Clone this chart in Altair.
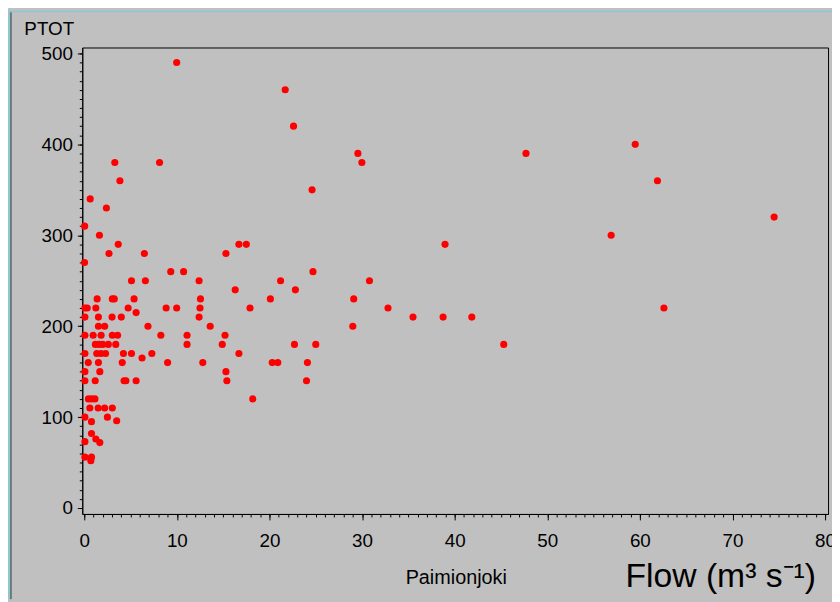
import altair as alt
import pandas as pd

# ---- data (Paimionjoki: flow vs PTOT) ----
flow = [
    0.04, 0.03, 0.64, 2.39, 1.64, 3.67, 2.67, 6.49, 3.3, 3.85, 8.13, 9.98,
    21.7, 22.6, 29.55, 29.98, 24.6, 47.7, 59.5, 61.9, 74.5, 56.9, 38.96,
    32.8, 35.5, 38.75, 41.85, 62.6, 45.3, 16.7, 17.5, 15.3, 9.34, 10.73,
    24.7, 5.1, 6.6, 12.4, 21.2, 30.8, 16.3, 22.8, 12.55, 20.1, 29.1,
    1.39, 3.03, 3.24, 5.38, 0.07, 0.32, 1.25, 4.74, 8.84, 9.98, 12.5, 17.9,
    5.6, 0.07, 1.53, 3.0, 4.0, 12.4, 1.53, 2.2, 6.88, 13.6, 29.0,
    0.07, 0.96, 1.82, 3.03, 3.6, 8.27, 11.1, 15.2,
    1.2, 1.6, 2.0, 2.6, 3.4, 11.1, 14.9, 22.7, 25.0,
    0.07, 1.35, 1.8, 2.3, 4.23, 5.1, 7.3, 16.7, 6.24,
    0.43, 1.53, 4.1, 9.0, 12.8, 20.3, 20.9, 24.1,
    0.07, 1.68, 15.3, 0.07, 1.18, 4.3, 4.5, 5.6, 15.4, 24.0,
    0.45, 0.8, 1.15, 18.2, 0.6, 1.5, 2.2, 3.03,
    0.07, 2.5, 3.5, 0.78, 0.78, 0.07, 1.25, 1.68, 0.07, 0.78, 0.71,
]
ptot = [
    310, 270, 340, 330, 300, 290, 280, 280, 380, 360, 380, 490,
    460, 420, 390, 380, 350, 390, 400, 360, 320, 300, 290,
    220, 210, 210, 210, 220, 180, 290, 290, 280, 260, 260,
    260, 250, 250, 250, 250, 250, 240, 240, 230, 230, 230,
    230, 230, 230, 230, 220, 220, 220, 220, 220, 220, 220, 220,
    215, 210, 210, 210, 210, 210, 200, 200, 200, 200, 200,
    190, 190, 190, 190, 190, 190, 190, 190,
    180, 180, 180, 180, 180, 180, 180, 180, 180,
    170, 170, 170, 170, 170, 170, 170, 170, 165,
    160, 160, 160, 160, 160, 160, 160, 160,
    150, 150, 150, 140, 140, 140, 140, 140, 140, 140,
    120, 120, 120, 120, 110, 110, 110, 110,
    100, 100, 96, 95, 82, 73, 76, 72, 56, 56, 52,
]

x_major = list(range(0, 81, 10))
x_minor = list(range(0, 81, 1))
y_major = list(range(0, 501, 100))
y_minor = list(range(0, 501, 10))

x_title = "Paimionjoki"
x_unit_title = "Flow (m\u00b3 s\u207b\u00b9)"
y_title = "PTOT"

df = pd.DataFrame({"flow": flow, "ptot": ptot})

FONT = "Liberation Sans"
GREY = "#C0C0C0"
BLUE = "#8BC8D0"
X_DOMAIN = [-0.214, 80.32]
Y_DOMAIN = [-6.5, 506.5]

xs = alt.Scale(domain=X_DOMAIN, nice=False, zero=False)
ys = alt.Scale(domain=Y_DOMAIN, nice=False, zero=False)

common_axis = dict(
    grid=False, domainColor="black", tickColor="black", labelColor="black",
    titleColor="black", labelFont=FONT, titleFont=FONT, labelFontSize=19,
    titleFontWeight="normal", labelFlush=False, tickWidth=1, domainWidth=1,
)

points = alt.Chart(df).mark_circle(size=52, color="#FF0000", opacity=1).encode(
    x=alt.X("flow:Q", scale=xs, axis=alt.Axis(
        values=x_major, orient="bottom", title=x_title, tickSize=6,
        labelPadding=12, titleFontSize=20, titleX=326, titleY=70,
        titleAlign="left", titleBaseline="alphabetic", **common_axis)),
    y=alt.Y("ptot:Q", scale=ys, axis=alt.Axis(
        values=y_major, orient="left", title=y_title, tickSize=5,
        labelPadding=5, titleFontSize=19, titleAngle=0, titleX=-59,
        titleY=-13, titleAlign="left", titleBaseline="alphabetic",
        **common_axis)),
)

minor = alt.Chart(df).mark_circle(size=1, opacity=0).encode(
    x=alt.X("flow:Q", scale=xs, axis=alt.Axis(
        values=x_minor, orient="bottom", labels=False, domain=False,
        tickSize=3, title=x_unit_title, titleFontSize=34, titleX=548,
        titleY=73, titleAlign="left", titleBaseline="alphabetic",
        grid=False, tickColor="black", titleColor="black", titleFont=FONT,
        titleFontWeight="normal")),
    y=alt.Y("ptot:Q", scale=ys, axis=alt.Axis(
        values=y_minor, orient="left", labels=False, domain=False,
        tickSize=3, title="", grid=False, tickColor="black")),
)

one = alt.Data(values=[{"k": 1}])
left_strip = alt.Chart(one).mark_rect(color=BLUE).encode(
    x=alt.value(-75), x2=alt.value(-72.5), y=alt.value(-37), y2=alt.value(557))
top_strip = alt.Chart(one).mark_rect(color=BLUE).encode(
    x=alt.value(-75), x2=alt.value(757), y=alt.value(-37), y2=alt.value(-35.5))
edge = alt.Chart(one).mark_rule(color="#333333", strokeWidth=1).encode(
    x=alt.value(-72), y=alt.value(-35.5), y2=alt.value(557))

chart = alt.layer(left_strip, top_strip, edge, minor, points).resolve_scale(
    x="independent", y="independent"
).properties(
    width=753, height=471,
    autosize=alt.AutoSizeParams(type="none"),
    padding={"left": 75, "top": 37, "right": 4, "bottom": 86},
    background=GREY,
).configure_view(stroke="black", strokeWidth=1)

chart.save("out.html", embed_options={"renderer": "svg", "actions": False})
